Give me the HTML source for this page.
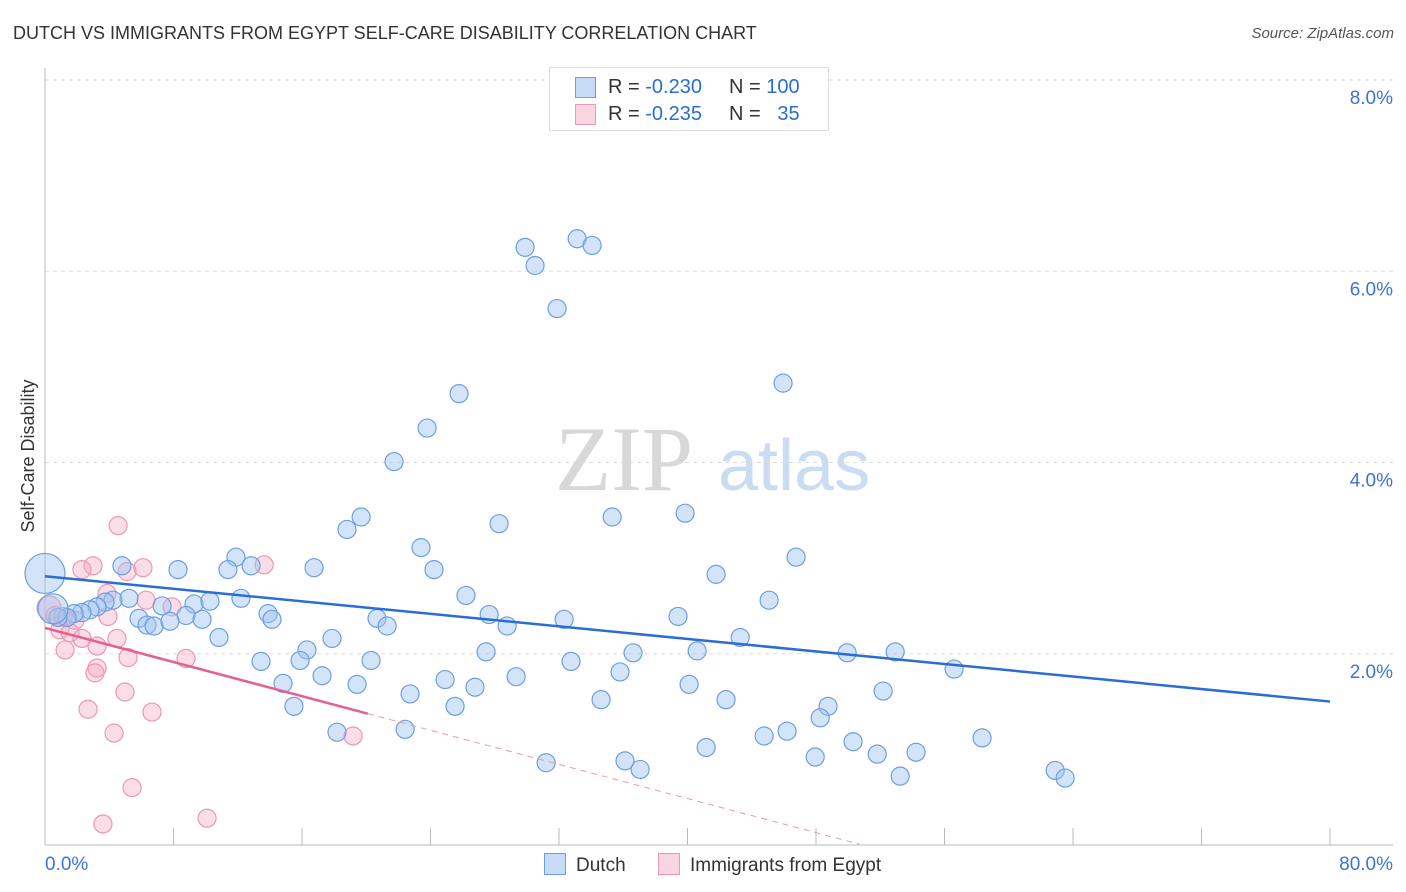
<!DOCTYPE html>
<html><head><meta charset="utf-8"><style>
body{margin:0;background:#fff;font-family:"Liberation Sans",sans-serif;}
#wrap{position:relative;width:1406px;height:892px;overflow:hidden;}
.t{position:absolute;white-space:nowrap;}
</style></head><body>
<div id="wrap">
<div class="t" style="left:13px;top:23px;font-size:18px;color:#333;">DUTCH VS IMMIGRANTS FROM EGYPT SELF-CARE DISABILITY CORRELATION CHART</div>
<div class="t" style="right:12px;top:25px;font-size:15px;color:#555;font-style:italic;">Source: ZipAtlas.com</div>
<svg id="svg" width="1406" height="892" style="position:absolute;left:0;top:0"></svg>
</div>
<script>
const yTicks=[2,4,6,8];
const xTickLabels=["0.0%","80.0%"];
const dutchX=[29.89,30.51,33.13,34.06,31.88,45.95,25.78,23.79,21.73,19.68,18.80,28.27,35.31,39.85,23.41,46.76,11.89,4.79,8.28,11.39,12.83,16.75,24.22,41.78,26.21,45.08,5.23,12.20,4.23,3.74,3.24,2.80,2.30,1.81,1.37,0.81,7.29,9.28,10.27,8.78,5.85,6.35,6.79,7.78,9.78,13.89,14.13,20.67,21.30,27.65,28.77,32.32,39.41,10.83,17.87,43.28,16.31,27.46,36.61,40.60,49.94,52.93,13.45,15.88,20.30,32.75,56.60,35.80,24.91,17.25,29.33,14.82,19.43,26.77,40.10,52.18,22.73,34.62,42.40,15.50,25.53,48.75,48.26,18.18,22.42,46.20,44.77,50.31,58.34,41.16,54.23,51.81,47.95,31.20,36.11,37.05,53.24,62.89,63.51,0,0.5];
const dutchY=[6.25,6.06,6.34,6.27,5.61,4.83,4.72,4.36,4.01,3.43,3.30,3.36,3.43,3.47,3.11,3.01,3.01,2.92,2.88,2.88,2.92,2.90,2.88,2.83,2.61,2.56,2.58,2.58,2.56,2.54,2.49,2.46,2.43,2.42,2.38,2.38,2.50,2.52,2.55,2.40,2.37,2.30,2.29,2.34,2.36,2.42,2.36,2.37,2.29,2.41,2.29,2.36,2.39,2.17,2.16,2.17,2.04,2.02,2.01,2.03,2.01,2.02,1.92,1.93,1.93,1.92,1.84,1.81,1.73,1.77,1.76,1.69,1.68,1.65,1.68,1.61,1.58,1.52,1.52,1.45,1.45,1.45,1.33,1.18,1.21,1.19,1.14,1.08,1.12,1.02,0.97,0.95,0.92,0.86,0.88,0.79,0.72,0.78,0.70,2.84,2.47];
const dutchR=[9,9,9,9,9,9,9,9,9,9,9,9,9,9,9,9,9,9,9,9,9,9,9,9,9,9,9,9,9,9,9,9,9,9,9,9,9,9,9,9,9,9,9,9,9,9,9,9,9,9,9,9,9,9,9,9,9,9,9,9,9,9,9,9,9,9,9,9,9,9,9,9,9,9,9,9,9,9,9,9,9,9,9,9,9,9,9,9,9,9,9,9,9,9,9,9,9,9,9,20,15];
const egyptX=[4.55,2.99,2.30,6.10,5.11,13.64,3.86,6.29,7.91,0.25,0.62,1.12,1.87,3.92,0.93,1.56,2.30,3.24,4.48,1.25,5.17,8.78,3.24,3.11,4.98,6.66,2.68,4.30,19.18,5.42,3.61,10.09];
const egyptY=[3.34,2.92,2.88,2.90,2.86,2.93,2.63,2.56,2.49,2.48,2.40,2.39,2.35,2.39,2.25,2.22,2.16,2.08,2.16,2.04,1.96,1.95,1.85,1.80,1.60,1.39,1.42,1.17,1.14,0.60,0.22,0.28];
const blueTrend=[2.81,1.50];   // y at x=0 and x=80
const pinkTrend=[2.27,-0.0446]; // intercept, slope
const pinkSolidEnd=20.1, pinkDashEnd=50.7;

const NS="http://www.w3.org/2000/svg";
const svg=document.getElementById('svg');
const X0=45,X1=1330,Y0=845,YTOP8=80;
const sx=v=>X0+(X1-X0)*v/80;
const sy=v=>Y0-(Y0-YTOP8)*v/8;
function mk(tag,attrs,parent){const e=document.createElementNS(NS,tag);for(const k in attrs)e.setAttribute(k,attrs[k]);(parent||svg).appendChild(e);return e;}

// watermark
let wm=mk('text',{x:555,y:490,'font-size':92,'font-family':'Liberation Serif,serif',fill:'#d8d8d8'});
wm.textContent='ZIP';


let wm2=mk('text',{x:718,y:490,'font-size':72,'font-family':'Liberation Sans,sans-serif',fill:'#c9dcf2'});
wm2.textContent='atlas';



// gridlines & y labels
yTicks.forEach(v=>{
  let g=mk('line',{x1:X0,x2:1393,y1:sy(v),y2:sy(v),stroke:'#ddd','stroke-dasharray':'4,4'});
  
  
  let t=mk('text',{x:1393,y:sy(v)+24,'text-anchor':'end','font-size':19,fill:'#3b74d6'});
  t.textContent=v.toFixed(1)+'%';
  
  
});
// axes
let ya=mk('line',{x1:X0,x2:X0,y1:68,y2:Y0,stroke:'#bbb'});


let xa=mk('line',{x1:X0,x2:1393,y1:Y0,y2:Y0,stroke:'#bbb'});


for(let i=1;i<=10;i++){
  let tk=mk('line',{x1:sx(i*8),x2:sx(i*8),y1:828,y2:Y0,stroke:'#bbb'});
  
  
}
let xl0=mk('text',{x:45,y:870,'font-size':19,fill:'#3b74d6'});
xl0.textContent=xTickLabels[0];


let xl1=mk('text',{x:1393,y:870,'text-anchor':'end','font-size':19,fill:'#3b74d6'});
xl1.textContent=xTickLabels[1];


let yt=mk('text',{x:34,y:456,'font-size':18,fill:'#333','text-anchor':'middle',transform:'rotate(-90 34 456)'});
yt.textContent='Self-Care Disability';



// points
egyptX.forEach((v,i)=>{
  let c=mk('circle',{cx:sx(v),cy:sy(egyptY[i]),r:i==9?12:9,fill:'rgba(245,170,195,0.4)',stroke:'#eb98b2','stroke-width':1.2});
  
  
});
dutchX.forEach((v,i)=>{
  let c=mk('circle',{cx:sx(v),cy:sy(dutchY[i]),r:dutchR[i],fill:'rgba(160,195,240,0.45)',stroke:'#6c9fe2','stroke-width':1.2});
  
  
});
// trend lines
let bl=mk('line',{x1:sx(0),y1:sy(blueTrend[0]),x2:sx(80),y2:sy(blueTrend[1]),stroke:'#2a6dd6','stroke-width':2.5});


let pl=mk('line',{x1:sx(0),y1:sy(pinkTrend[0]),x2:sx(pinkSolidEnd),y2:sy(pinkTrend[0]+pinkTrend[1]*pinkSolidEnd),stroke:'#e4608e','stroke-width':2.5});


let pd=mk('line',{x1:sx(pinkSolidEnd),y1:sy(pinkTrend[0]+pinkTrend[1]*pinkSolidEnd),x2:sx(pinkDashEnd),y2:sy(pinkTrend[0]+pinkTrend[1]*pinkDashEnd),stroke:'#eb98b2','stroke-width':1,'stroke-dasharray':'6,5'});


</script>
<div style="position:absolute;left:549px;top:67px;width:278px;height:62px;border:1px solid #ddd;background:#fff;font-size:20px;">
  <div style="position:absolute;left:25px;top:8px;width:260px;height:22px;">
    <span style="position:absolute;left:0;top:1px;width:19px;height:19px;background:rgba(160,195,240,0.6);border:1px solid #6c9fe2;"></span>
    <span style="position:absolute;left:33px;top:0;color:#333;">R = <span style="color:#2a6dd6">-0.230</span></span>
    <span style="position:absolute;left:154px;top:0;color:#333;">N = <span style="color:#2a6dd6">100</span></span>
  </div>
  <div style="position:absolute;left:25px;top:35px;width:260px;height:22px;">
    <span style="position:absolute;left:0;top:1px;width:19px;height:19px;background:rgba(245,170,195,0.5);border:1px solid #eb98b2;"></span>
    <span style="position:absolute;left:33px;top:0;color:#333;">R = <span style="color:#2a6dd6">-0.235</span></span>
    <span style="position:absolute;left:154px;top:0;color:#333;">N = <span style="color:#2a6dd6">&nbsp;&nbsp;35</span></span>
  </div>
</div>
<div style="position:absolute;left:544px;top:853px;font-size:19px;color:#333;">
  <span style="position:absolute;left:0;top:0;white-space:nowrap;"><span style="display:inline-block;width:20px;height:20px;background:rgba(160,195,240,0.6);border:1px solid #6c9fe2;vertical-align:-4px;margin-right:10px;"></span>Dutch</span>
  <span style="position:absolute;left:114px;top:0;white-space:nowrap;"><span style="display:inline-block;width:20px;height:20px;background:rgba(245,170,195,0.5);border:1px solid #eb98b2;vertical-align:-4px;margin-right:10px;"></span>Immigrants from Egypt</span>
</div>
</body></html>
